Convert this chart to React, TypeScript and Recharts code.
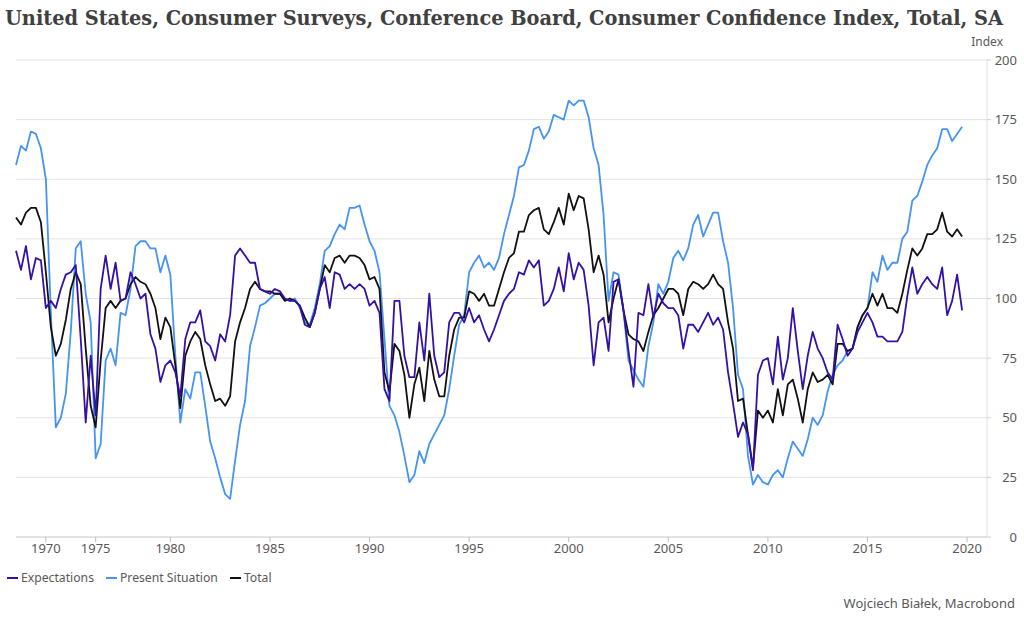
import { LineChart, Line, XAxis, YAxis, CartesianGrid } from "recharts";

// Observations are equally spaced: bimonthly until spring 1977, monthly after that.
// Values below are sampled every 3rd observation, starting Feb 1967.
const SAMPLE_STEP = 3;

const expectations = [
  120, 112, 122, 108, 117, 116, 96, 99, 96, 104, 110, 111, 114, 83, 48, 76, 51, 104, 118, 104, 115, 99, 100, 111,
  106, 100, 102, 85, 79, 65, 72, 74, 69, 59, 83, 90, 90, 95, 82, 80, 74, 85, 82, 93, 118, 121, 118, 115,
  115, 104, 103, 102, 104, 103, 100, 99, 99, 97, 89, 88, 94, 104, 109, 96, 111, 110, 104, 106, 104, 106, 104, 97,
  99, 94, 62, 57, 99, 99, 76, 67, 67, 90, 74, 102, 76, 67, 69, 90, 94, 94, 90, 96, 90, 93, 87, 82,
  87, 93, 99, 102, 104, 111, 110, 116, 113, 116, 97, 99, 104, 113, 103, 119, 108, 115, 112, 97, 72, 90, 92, 78,
  107, 108, 95, 78, 63, 94, 93, 106, 92, 102, 98, 96, 96, 93, 79, 89, 89, 86, 90, 94, 89, 92, 87, 69,
  56, 42, 48, 43, 28, 68, 74, 75, 64, 84, 66, 75, 96, 78, 62, 76, 86, 79, 75, 69, 66, 89, 83, 76,
  79, 86, 90, 94, 90, 84, 84, 82, 82, 82, 86, 101, 113, 102, 106, 109, 106, 104, 113, 93, 99, 110, 95,
];

const presentSituation = [
  156, 164, 162, 170, 169, 163, 150, 94, 46, 50, 60, 86, 121, 124, 102, 90, 33, 39, 74, 79, 72, 94, 93, 104,
  122, 124, 124, 121, 121, 111, 118, 110, 76, 48, 62, 58, 69, 69, 55, 40, 33, 25, 18, 16, 32, 47, 57, 80,
  88, 97, 98, 100, 102, 102, 100, 99, 100, 96, 90, 89, 96, 106, 120, 122, 127, 131, 129, 138, 138, 139, 131, 124,
  120, 111, 83, 55, 51, 44, 34, 23, 26, 36, 31, 39, 43, 47, 51, 62, 76, 89, 93, 111, 115, 118, 113, 115,
  112, 117, 127, 135, 143, 155, 156, 162, 171, 172, 167, 170, 177, 176, 175, 183, 181, 183, 183, 176, 163, 156, 135, 99,
  111, 110, 95, 74, 70, 66, 63, 80, 90, 106, 102, 107, 117, 120, 116, 121, 131, 135, 126, 131, 136, 136, 124, 115,
  96, 68, 62, 34, 22, 26, 23, 22, 26, 28, 25, 33, 40, 37, 34, 41, 50, 47, 51, 61, 68, 72, 74, 78,
  79, 88, 93, 96, 111, 107, 118, 112, 115, 115, 125, 128, 141, 143, 149, 156, 160, 163, 171, 171, 166, 169, 172,
];

const total = [
  134, 131, 136, 138, 138, 132, 111, 88, 76, 81, 91, 104, 111, 106, 79, 55, 46, 74, 96, 99, 96, 99, 100, 106,
  109, 107, 106, 102, 96, 83, 92, 88, 72, 54, 76, 82, 86, 83, 72, 64, 57, 58, 55, 59, 82, 90, 96, 104,
  107, 104, 103, 103, 102, 102, 99, 100, 99, 97, 92, 88, 94, 104, 114, 111, 117, 118, 115, 118, 118, 117, 114, 108,
  109, 104, 69, 61, 81, 78, 68, 50, 64, 71, 57, 78, 66, 59, 59, 76, 87, 92, 92, 103, 102, 99, 102, 97,
  97, 104, 111, 117, 119, 128, 128, 135, 137, 138, 129, 127, 132, 138, 131, 144, 137, 143, 142, 129, 111, 118, 110, 90,
  100, 108, 95, 85, 83, 82, 78, 86, 93, 96, 100, 104, 104, 102, 93, 104, 107, 106, 104, 106, 110, 106, 104, 90,
  79, 57, 58, 43, 29, 53, 50, 53, 48, 62, 51, 64, 66, 58, 48, 62, 69, 65, 66, 68, 64, 81, 81, 78,
  79, 88, 93, 96, 102, 97, 102, 96, 96, 94, 102, 112, 121, 118, 121, 127, 127, 129, 136, 128, 126, 129, 126,
];

// x-axis ticks: observation index of January of each labelled year
const yearTickIdx = [18, 48, 93, 153, 213, 273, 333, 393, 453, 513, 573];
const yearLabels = ["1970", "1975", "1980", "1985", "1990", "1995", "2000", "2005", "2010", "2015", "2020"];
const valueTicks = [0, 25, 50, 75, 100, 125, 150, 175, 200];

const COLORS = {
  expectations: "#3311a8",
  present: "#4493f5",
  total: "#111111",
};

const FONT = "'Noto Sans', 'Open Sans', sans-serif";
const TEXT_GRAY = "#595959";

const data = total.map((t, i) => ({
  idx: i * SAMPLE_STEP,
  expectations: expectations[i],
  present: presentSituation[i],
  total: t,
}));

function yearFor(idx: number) {
  const k = yearTickIdx.indexOf(idx);
  return k >= 0 ? yearLabels[k] : "";
}

function ValueTick(props: any) {
  const { x, y, payload } = props;
  return (
    <text x={x + 24} y={y} dy={4.5} textAnchor="end" fontSize={13} fontFamily={FONT} fill={TEXT_GRAY}>
      {payload.value}
    </text>
  );
}

const legendItems = [
  { label: "Expectations", color: COLORS.expectations },
  { label: "Present Situation", color: COLORS.present },
  { label: "Total", color: COLORS.total },
];

export default function App() {
  return (
    <div style={{ position: "absolute", left: 0, top: 0, width: 1024, height: 621, background: "#fff", fontFamily: FONT }}>
      <svg width={1024} height={36} style={{ position: "absolute", left: 0, top: 0 }}>
        <text
          x={5}
          y={25}
          fontSize={20}
          fontWeight={700}
          fontFamily="'DejaVu Serif Condensed', 'DejaVu Serif', serif"
          fill="#404040"
          textLength={998}
          lengthAdjust="spacingAndGlyphs"
        >
          United States, Consumer Surveys, Conference Board, Consumer Confidence Index, Total, SA
        </text>
      </svg>
      <div style={{ position: "absolute", right: 21, top: 33, fontSize: 12, color: TEXT_GRAY }}>Index</div>

      <div style={{ position: "absolute", left: 0, top: 0 }}>
        <LineChart width={1024} height={621} data={data} margin={{ top: 60, right: 0, bottom: 54, left: 16 }}>
          <CartesianGrid vertical={false} stroke="#e3e3e3" />
          <XAxis
            dataKey="idx"
            type="number"
            domain={[0, 585]}
            ticks={yearTickIdx}
            interval={0}
            tickFormatter={yearFor}
            height={30}
            tickSize={5}
            axisLine={{ stroke: "#d4d4d4" }}
            tickLine={{ stroke: "#bdbdbd" }}
            tick={{ fontSize: 13, fontFamily: FONT, fill: TEXT_GRAY }}
          />
          <YAxis
            orientation="right"
            domain={[0, 200]}
            ticks={valueTicks}
            width={37}
            tickSize={4}
            axisLine={{ stroke: "#e0e0e0" }}
            tickLine={{ stroke: "#cfcfcf" }}
            tick={<ValueTick />}
          />
          <Line
            dataKey="present"
            stroke={COLORS.present}
            strokeWidth={1.8}
            dot={false}
            isAnimationActive={false}
            strokeLinejoin="round"
          />
          <Line
            dataKey="total"
            stroke={COLORS.total}
            strokeWidth={1.8}
            dot={false}
            isAnimationActive={false}
            strokeLinejoin="round"
          />
          <Line
            dataKey="expectations"
            stroke={COLORS.expectations}
            strokeWidth={1.8}
            dot={false}
            isAnimationActive={false}
            strokeLinejoin="round"
          />
        </LineChart>
      </div>

      <div style={{ position: "absolute", left: 7, top: 569, display: "flex", alignItems: "center", fontSize: 12.2, color: TEXT_GRAY }}>
        {legendItems.map((it) => (
          <span key={it.label} style={{ display: "flex", alignItems: "center", marginRight: 12 }}>
            <span style={{ display: "inline-block", width: 11, height: 2, background: it.color, marginRight: 3 }} />
            {it.label}
          </span>
        ))}
      </div>

      <div style={{ position: "absolute", right: 9, top: 594, fontSize: 13, color: TEXT_GRAY }}>Wojciech Białek, Macrobond</div>
    </div>
  );
}
